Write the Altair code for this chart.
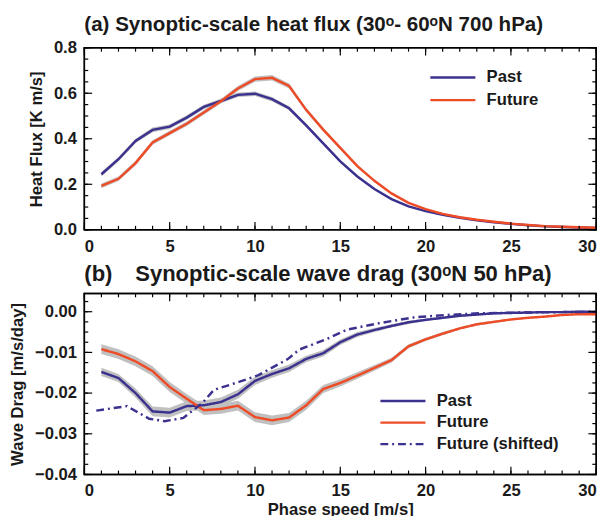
import altair as alt
import pandas as pd

# ---------------- data ----------------
speed = list(range(1, 31))

hf_past = [0.244, 0.310, 0.390, 0.439, 0.453, 0.493, 0.540, 0.566, 0.593, 0.598,
           0.574, 0.534, 0.459, 0.380, 0.301, 0.234, 0.179, 0.135, 0.103, 0.082,
           0.066, 0.053, 0.042, 0.033, 0.026, 0.020, 0.015, 0.012, 0.010, 0.008]
hf_future = [0.193, 0.224, 0.293, 0.384, 0.425, 0.466, 0.515, 0.565, 0.621, 0.662,
             0.668, 0.632, 0.527, 0.440, 0.360, 0.280, 0.215, 0.160, 0.118, 0.091,
             0.070, 0.055, 0.044, 0.035, 0.027, 0.021, 0.016, 0.013, 0.011, 0.009]
hf_past_err = [0.010, 0.010, 0.010, 0.010, 0.010, 0.010, 0.010, 0.010, 0.010, 0.010,
               0.010, 0.009, 0.008, 0.007, 0.006, 0.005, 0.004, 0.004, 0.003, 0.003,
               0.003, 0.002, 0.002, 0.002, 0.002, 0.002, 0.002, 0.002, 0.002, 0.002]
hf_future_err = [0.010, 0.010, 0.010, 0.010, 0.010, 0.010, 0.010, 0.010, 0.011, 0.012,
                 0.012, 0.011, 0.009, 0.008, 0.007, 0.006, 0.005, 0.004, 0.003, 0.003,
                 0.003, 0.002, 0.002, 0.002, 0.002, 0.002, 0.002, 0.002, 0.002, 0.002]

wd_past = [-0.0148, -0.0163, -0.0200, -0.0245, -0.0248, -0.0232, -0.0230, -0.0222, -0.0203, -0.0170,
           -0.0153, -0.0139, -0.0116, -0.0102, -0.0075, -0.0056, -0.0045, -0.0035, -0.0026, -0.0020,
           -0.0015, -0.0010, -0.0007, -0.0004, -0.0003, -0.0002, -0.0001, -0.0001, 0.0, 0.0]
wd_future = [-0.0092, -0.0104, -0.0122, -0.0146, -0.0185, -0.0214, -0.0242, -0.0239, -0.0231, -0.0259,
             -0.0267, -0.0260, -0.0230, -0.0190, -0.0175, -0.0157, -0.0138, -0.0119, -0.0085, -0.0068,
             -0.0054, -0.0041, -0.0031, -0.0025, -0.0019, -0.0015, -0.0012, -0.0008, -0.0006, -0.0006]
wd_past_err = [0.0010, 0.0010, 0.0011, 0.0012, 0.0012, 0.0012, 0.0012, 0.0011, 0.0011, 0.0010,
               0.0009, 0.0009, 0.0008, 0.0008, 0.0007, 0.0006, 0.0005, 0.0004, 0.0004, 0.0003,
               0.0003, 0.0003, 0.0002, 0.0002, 0.0002, 0.0002, 0.0002, 0.0002, 0.0002, 0.0002]
wd_future_err = [0.0012, 0.0012, 0.0012, 0.0012, 0.0012, 0.0012, 0.0012, 0.0012, 0.0012, 0.0012,
                 0.0012, 0.0011, 0.0011, 0.0010, 0.0009, 0.0008, 0.0007, 0.0006, 0.0005, 0.0004,
                 0.0004, 0.0003, 0.0003, 0.0003, 0.0002, 0.0002, 0.0002, 0.0002, 0.0002, 0.0002]

shift_speed = [0.7, 2.5, 3.8, 4.7, 5.8, 6.9, 7.6, 9.1, 10.2, 11.9,
               12.6, 14.1, 15.4, 17.3, 19.3, 21.2, 23.1, 25.5, 28.0, 30.0]
wd_shifted = [-0.0243, -0.0232, -0.0263, -0.0269, -0.0261, -0.0225, -0.0192, -0.0172, -0.0156, -0.0117,
              -0.0093, -0.0069, -0.0044, -0.0028, -0.0014, -0.0008, -0.0004, -0.0002, -0.0001, 0.0]

x_range = [0, 30]
hf_range = [0.0, 0.8]
wd_range = [-0.04, 0.0045]

x_major = [0, 5, 10, 15, 20, 25, 30]
x_minor = [0, 1, 2, 3, 4, 5, 6, 7, 8, 9, 10, 11, 12, 13, 14, 15, 16, 17, 18, 19, 20,
           21, 22, 23, 24, 25, 26, 27, 28, 29, 30]
hf_major = [0.0, 0.2, 0.4, 0.6, 0.8]
hf_minor = [0.0, 0.05, 0.1, 0.15, 0.2, 0.25, 0.3, 0.35, 0.4, 0.45, 0.5, 0.55, 0.6,
            0.65, 0.7, 0.75, 0.8]
wd_major = [-0.04, -0.03, -0.02, -0.01, 0.0]
wd_minor = [-0.04, -0.0375, -0.035, -0.0325, -0.03, -0.0275, -0.025, -0.0225, -0.02,
            -0.0175, -0.015, -0.0125, -0.01, -0.0075, -0.005, -0.0025, 0.0, 0.0025]

series2 = ["Past", "Future"]
series3 = ["Past", "Future", "Future (shifted)"]

# ---------------- tables ----------------
def band_table(vals, errs, name):
    return pd.DataFrame({
        "speed": speed, "value": vals,
        "lo": [v - e for v, e in zip(vals, errs)],
        "hi": [v + e for v, e in zip(vals, errs)],
        "series": name,
    })

hf = pd.concat([band_table(hf_past, hf_past_err, "Past"),
                band_table(hf_future, hf_future_err, "Future")], ignore_index=True)
wd = pd.concat([band_table(wd_past, wd_past_err, "Past"),
                band_table(wd_future, wd_future_err, "Future")], ignore_index=True)
wd_lines = pd.concat([wd[["speed", "value", "series"]],
                      pd.DataFrame({"speed": shift_speed, "value": wd_shifted,
                                    "series": "Future (shifted)"})], ignore_index=True)

BLUE = "#3b318f"
RED = "#ee4b27"
GREY = "#c0c0c0"
INK = "#1a1a1a"
FONT = "Liberation Sans"
W = 523
MAJ, MIN = 8, 4

xscale = alt.Scale(domain=x_range, nice=False, zero=False)


def x_axis(title):
    kw = dict(orient="bottom", values=x_major, ticks=False, labelPadding=9)
    if title:
        return alt.Axis(title=title, titlePadding=3, **kw)
    return alt.Axis(title=None, **kw)


def y_axis(values, title, fmt):
    return alt.Axis(orient="left", values=values, ticks=False, format=fmt,
                    labelPadding=8, title=title, titlePadding=8)


def frame_and_ticks(H, yscale, yrange, ymajor, yminor, xax, yax):
    """Box frame and inward ticks on all four sides, placed through the scales."""
    out = []
    for vals, L in ((x_minor, MIN), (x_major, MAJ)):
        d = pd.DataFrame({"speed": vals})
        base = alt.Chart(d).mark_rule(color="black", strokeWidth=1.2)
        xe = alt.X("speed:Q", scale=xscale, axis=xax())
        out.append(base.encode(x=xe, y=alt.value(H), y2=alt.value(H - L)))
        out.append(base.encode(x=xe, y=alt.value(0), y2=alt.value(L)))
    for vals, L in ((yminor, MIN), (ymajor, MAJ)):
        d = pd.DataFrame({"value": vals})
        base = alt.Chart(d).mark_rule(color="black", strokeWidth=1.2)
        ye = alt.Y("value:Q", scale=yscale, axis=yax())
        out.append(base.encode(y=ye, x=alt.value(0), x2=alt.value(L)))
        out.append(base.encode(y=ye, x=alt.value(W), x2=alt.value(W - L)))
    fx = alt.Chart(pd.DataFrame({"speed": x_range})).mark_rule(color="black", strokeWidth=1.5)
    out.append(fx.encode(x=alt.X("speed:Q", scale=xscale, axis=xax()),
                         y=alt.value(-0.5), y2=alt.value(H + 0.5)))
    fy = alt.Chart(pd.DataFrame({"value": yrange})).mark_rule(color="black", strokeWidth=1.5)
    out.append(fy.encode(y=alt.Y("value:Q", scale=yscale, axis=yax()),
                         x=alt.value(-0.5), x2=alt.value(W + 0.5)))
    return out


# ---------------- panel (a) ----------------
H1 = 186
hf_scale = alt.Scale(domain=hf_range, nice=False, zero=False)


def hf_x():
    return x_axis(None)


def hf_y():
    return y_axis(hf_major, "Heat Flux [K m/s]", ".1f")


hf_band = alt.Chart(hf).mark_area(color=GREY).encode(
    x=alt.X("speed:Q", scale=xscale, axis=hf_x()),
    y=alt.Y("lo:Q", scale=hf_scale, axis=hf_y()),
    y2="hi:Q",
    detail="series:N",
)
hf_line = alt.Chart(hf).mark_line(strokeWidth=2.5).encode(
    x=alt.X("speed:Q", scale=xscale, axis=hf_x()),
    y=alt.Y("value:Q", scale=hf_scale, axis=hf_y()),
    color=alt.Color("series:N", sort=series2,
                    scale=alt.Scale(domain=series2, range=[BLUE, RED]),
                    legend=alt.Legend(title=None, orient="none", legendX=352, legendY=19,
                                      clipHeight=23, rowPadding=0)),
)
top = alt.layer(
    hf_band, hf_line,
    *frame_and_ticks(H1, hf_scale, hf_range, hf_major, hf_minor, hf_x, hf_y)
).properties(
    width=W, height=H1,
    title=alt.TitleParams("(a) Synoptic-scale heat flux (30\u1d52- 60\u1d52N 700 hPa)",
                          anchor="start", frame="group", fontSize=21, font=FONT,
                          fontWeight="bold", color=INK, offset=4),
)

# ---------------- panel (b) ----------------
H2 = 185
wd_scale = alt.Scale(domain=wd_range, nice=False, zero=False)


def wd_x():
    return x_axis("Phase speed [m/s]")


def wd_y():
    return y_axis(wd_major, "Wave Drag [m/s/day]", ".2f")


wd_band = alt.Chart(wd).mark_area(color=GREY).encode(
    x=alt.X("speed:Q", scale=xscale, axis=wd_x()),
    y=alt.Y("lo:Q", scale=wd_scale, axis=wd_y()),
    y2="hi:Q",
    detail="series:N",
)
wd_line = alt.Chart(wd_lines).mark_line(strokeWidth=2.5).encode(
    x=alt.X("speed:Q", scale=xscale, axis=wd_x()),
    y=alt.Y("value:Q", scale=wd_scale, axis=wd_y()),
    color=alt.Color("series:N", sort=series3,
                    scale=alt.Scale(domain=series3, range=[BLUE, RED, BLUE]),
                    legend=alt.Legend(title=None, orient="none", legendX=301, legendY=99,
                                      clipHeight=22, rowPadding=0)),
    strokeDash=alt.StrokeDash("series:N", sort=series3,
                              scale=alt.Scale(domain=series3,
                                              range=[[1, 0], [1, 0], [8, 4, 2, 4]]),
                              legend=alt.Legend(title=None, orient="none", legendX=301,
                                                legendY=99, clipHeight=22, rowPadding=0)),
)
bottom = alt.layer(
    wd_band, wd_line,
    *frame_and_ticks(H2, wd_scale, wd_range, wd_major, wd_minor, wd_x, wd_y)
).properties(
    width=W, height=H2,
    title=alt.TitleParams("(b)\u00a0\u00a0\u00a0\u2009Synoptic-scale wave drag (30\u1d52N 50 hPa)",
                          anchor="start", frame="group", fontSize=22.5, font=FONT,
                          fontWeight="bold", color=INK, offset=7),
)

chart = alt.vconcat(top, bottom, spacing=7).resolve_scale(
    color="independent", strokeDash="independent"
).properties(
    padding={"left": 0, "top": 0, "right": 5, "bottom": 0}
).configure_view(
    stroke="black", strokeWidth=1.5
).configure_axis(
    domain=False, grid=False,
    labelFont=FONT, labelFontSize=17, labelFontWeight="bold", labelColor=INK,
    titleFont=FONT, titleFontSize=17, titleFontWeight="bold", titleColor=INK,
).configure_legend(
    symbolType="stroke", symbolSize=2116, symbolStrokeWidth=2.5,
    labelFont=FONT, labelFontSize=17, labelFontWeight="bold", labelColor=INK,
    labelOffset=10, padding=0,
)

chart.save("out.html", embed_options={"renderer": "svg", "actions": False})
